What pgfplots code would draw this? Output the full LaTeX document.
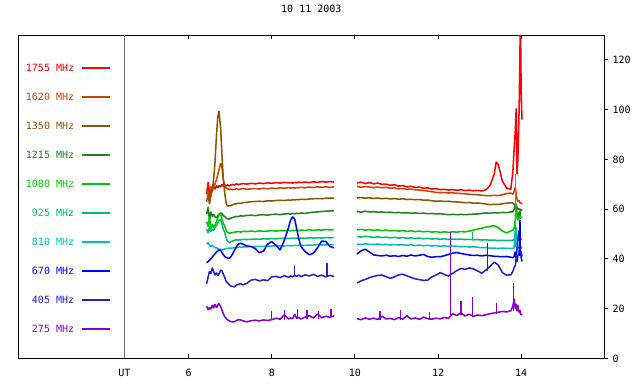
\documentclass[border=0pt]{standalone}
\usepackage{pgfplots}
\pgfplotsset{compat=1.18}
\usepackage{pgfplotstable}
\usepackage{fontspec}
\setmainfont{DejaVu Sans Mono}
\definecolor{c1755}{RGB}{255,0,0}
\definecolor{c1620}{RGB}{204,68,0}
\definecolor{c1350}{RGB}{136,88,0}
\definecolor{c1215}{RGB}{34,130,34}
\definecolor{c1080}{RGB}{0,200,0}
\definecolor{c925}{RGB}{0,190,110}
\definecolor{c810}{RGB}{0,190,190}
\definecolor{c670}{RGB}{0,0,255}
\definecolor{c405}{RGB}{35,35,200}
\definecolor{c275}{RGB}{136,0,204}
\definecolor{utgray}{RGB}{110,110,110}
\pgfplotstableread{
x r o b g lg t c bl db p
6.43 66.0 68.0 63.0 58.0 55.0 52.0 46.0 38.5 30.0 21.0
6.47 71.0 66.0 66.0 61.0 53.0 50.5 46.5 39.0 33.0 19.5
6.50 64.0 67.0 62.0 55.0 57.0 53.0 45.5 39.5 35.0 20.5
6.53 69.0 69.0 65.0 59.0 52.0 51.0 45.0 40.0 34.0 19.8
6.57 67.0 68.0 68.0 57.0 54.0 52.0 45.5 40.8 36.5 21.5
6.60 70.0 69.0 72.0 58.0 52.5 51.5 45.0 41.5 35.0 20.2
6.63 68.0 70.0 78.0 57.0 53.5 52.5 44.5 42.0 33.5 21.8
6.67 69.5 72.0 90.0 56.5 55.0 53.5 44.5 42.8 34.5 20.5
6.70 68.5 74.0 97.0 57.5 56.5 54.5 44.0 43.2 33.2 21.5
6.73 69.5 76.0 99.5 58.0 57.8 55.5 44.0 43.6 34.0 22.0
6.77 69.0 78.5 92.0 58.5 58.0 55.8 43.8 43.4 35.5 20.8
6.80 70.0 77.0 82.0 58.3 56.0 54.0 43.6 42.5 35.3 19.5
6.83 69.2 72.0 73.0 57.5 54.5 52.0 43.8 41.8 34.0 18.0
6.87 69.8 69.0 66.0 57.0 53.0 50.5 44.0 41.0 32.5 16.8
6.90 69.3 68.5 62.5 56.5 51.5 48.5 44.2 40.6 31.0 16.2
6.93 69.8 68.3 61.2 56.2 50.8 47.3 44.3 40.4 30.5 15.6
6.97 69.4 67.9 61.5 56.0 50.4 46.6 44.3 40.3 29.8 15.2
7.00 69.6 68.1 61.3 56.3 50.4 46.8 44.4 40.6 29.2 14.9
7.05 70.0 67.8 61.8 56.6 50.6 47.2 44.4 41.8 29.0 14.7
7.10 69.7 68.0 62.0 56.9 50.8 47.5 44.6 43.5 28.8 14.8
7.15 70.2 68.2 62.2 57.1 50.9 47.7 44.5 45.0 29.5 15.3
7.20 69.9 67.9 62.4 57.0 51.0 47.6 44.7 46.0 29.8 15.6
7.25 70.1 68.1 62.3 57.4 50.8 47.7 44.8 46.3 30.1 15.5
7.30 70.3 68.3 62.6 57.2 51.1 47.9 44.8 46.0 29.6 15.2
7.40 70.1 68.0 62.8 57.5 51.0 47.8 44.9 45.2 30.2 14.7
7.50 70.4 68.2 63.0 57.6 51.2 47.9 45.0 45.0 31.5 15.2
7.60 70.2 68.3 63.1 57.4 51.0 48.0 45.0 44.2 31.8 15.4
7.70 70.5 68.1 63.2 57.7 51.3 47.9 45.1 42.5 31.2 15.1
7.80 70.3 68.4 63.1 57.8 51.1 48.1 45.1 43.2 31.6 15.5
7.90 70.6 68.2 63.4 57.6 51.2 48.0 45.2 46.0 31.3 15.3
8.00 70.4 68.5 63.3 57.9 51.4 48.2 45.2 47.0 32.8 15.6
8.10 70.7 68.3 63.5 58.0 51.2 48.1 45.3 45.5 33.0 16.2
8.20 70.5 68.6 63.6 57.8 51.4 48.3 45.2 43.6 32.5 15.8
8.30 70.8 68.4 63.5 58.1 51.3 48.2 45.3 47.5 33.3 17.5
8.40 70.6 68.7 63.7 58.2 51.5 48.3 45.4 52.5 32.6 15.9
8.45 70.7 68.5 63.6 58.0 51.3 48.2 45.3 55.5 33.2 16.3
8.50 70.5 68.6 63.8 58.3 51.5 48.4 45.4 57.0 32.8 16.0
8.55 70.8 68.5 63.7 58.1 51.4 48.3 45.4 56.0 33.4 17.8
8.60 70.6 68.7 63.9 58.4 51.6 48.4 45.5 52.0 33.0 16.1
8.65 70.9 68.6 63.8 58.2 51.4 48.3 45.4 48.0 33.5 16.5
8.70 70.7 68.8 64.0 58.5 51.6 48.4 45.5 45.0 32.9 15.9
8.80 70.9 68.6 63.9 58.3 51.5 48.3 45.5 43.0 33.6 16.6
8.90 70.7 68.9 64.1 58.6 51.7 48.5 45.6 41.7 33.2 17.2
9.00 71.0 68.7 64.2 58.8 51.5 48.4 45.6 42.3 33.8 16.3
9.10 70.8 69.0 64.3 58.9 51.7 48.5 45.7 44.5 33.0 17.9
9.20 71.1 68.8 64.2 59.1 51.6 48.4 45.6 47.2 33.5 16.4
9.30 70.9 69.0 64.4 59.2 51.8 48.6 45.7 47.0 32.8 17.0
9.40 71.1 68.8 64.5 59.3 51.7 48.5 45.7 45.0 33.4 16.5
9.50 70.9 69.0 64.4 59.4 51.8 48.6 45.8 44.5 32.9 17.2
9.75 nan nan nan nan nan nan nan nan nan nan
10.05 70.6 69.2 64.5 59.1 51.7 49.0 46.0 42.0 30.4 16.0
10.15 70.9 68.8 64.7 58.8 51.9 48.8 45.8 43.3 31.2 15.6
10.25 70.3 69.1 64.4 59.2 51.6 49.1 46.1 43.9 31.8 16.3
10.35 70.7 68.9 64.6 58.9 51.8 48.9 45.9 42.8 32.5 15.8
10.45 70.2 68.7 64.3 59.0 51.5 48.7 45.8 41.6 33.0 16.2
10.55 70.5 68.9 64.5 58.8 51.7 48.9 46.0 41.4 33.4 15.7
10.65 70.0 68.6 64.2 58.9 51.4 48.6 45.7 41.2 33.5 17.0
10.75 70.1 68.8 64.4 58.7 51.6 48.8 45.9 41.5 32.9 15.9
10.85 69.6 68.4 64.1 58.8 51.3 48.5 45.6 41.1 32.2 16.1
10.95 69.8 68.6 64.3 58.6 51.5 48.7 45.8 41.3 32.8 15.6
11.05 69.3 68.2 64.0 58.7 51.2 48.4 45.6 41.0 33.6 16.4
11.15 69.5 68.3 64.2 58.5 51.4 48.6 45.7 41.4 33.9 15.8
11.25 69.0 68.0 63.9 58.6 51.1 48.3 45.5 41.1 33.2 17.2
11.35 69.2 68.1 64.0 58.4 51.3 48.5 45.7 41.6 32.6 15.9
11.45 68.7 67.8 63.8 58.5 51.0 48.2 45.4 41.2 32.0 16.3
11.55 68.9 67.7 63.9 58.3 51.2 48.4 45.6 41.5 31.7 15.7
11.65 68.4 67.5 63.6 58.4 50.9 48.1 45.3 41.8 31.4 16.6
11.75 68.6 67.3 63.7 58.2 51.1 48.3 45.5 41.0 31.5 16.0
11.85 68.1 67.0 63.4 58.3 50.8 48.0 45.2 40.7 32.8 15.8
11.95 68.3 66.8 63.2 58.1 51.0 48.2 45.4 40.9 33.5 16.2
12.05 67.8 66.6 63.3 58.2 50.7 47.9 45.1 40.9 34.5 15.9
12.15 68.0 66.7 63.1 58.0 50.9 48.1 45.3 41.3 33.8 16.5
12.25 67.7 66.5 63.2 57.8 50.7 47.8 45.0 41.8 33.1 16.1
12.35 67.9 66.6 63.0 57.9 50.9 48.0 45.2 42.3 34.2 18.0
12.45 67.6 66.4 62.9 57.8 50.8 47.9 45.1 42.6 35.3 17.3
12.55 67.8 66.3 62.8 57.9 51.0 48.0 44.9 42.2 36.2 18.4
12.65 67.5 66.2 62.6 57.8 50.9 47.8 45.0 41.9 35.8 17.1
12.75 67.7 66.0 62.7 57.9 51.2 47.9 44.8 41.6 36.4 17.8
12.85 67.4 65.9 62.4 58.0 51.6 47.7 44.9 41.4 36.0 16.9
12.95 67.6 65.8 62.5 58.1 52.0 47.8 44.7 41.5 35.2 17.5
13.05 67.3 65.6 62.3 58.3 52.3 47.6 44.5 41.2 34.3 17.2
13.15 67.8 65.5 62.1 58.5 52.8 47.7 44.6 41.5 35.5 17.6
13.25 69.5 65.4 61.8 58.4 53.1 47.5 44.3 41.3 37.0 18.0
13.35 74.0 65.6 62.0 58.6 53.4 47.6 44.4 41.1 38.7 18.3
13.40 79.0 65.5 61.9 58.5 53.0 47.5 44.3 41.0 38.2 18.4
13.45 77.8 65.5 61.9 58.5 52.6 47.4 44.2 41.0 37.5 18.6
13.55 71.2 65.8 62.2 58.7 51.2 47.5 44.4 40.9 34.5 18.9
13.65 68.5 66.3 62.4 58.6 50.5 47.4 44.2 41.0 33.5 18.7
13.75 68.0 66.5 62.6 58.9 51.2 47.5 44.3 40.7 33.6 19.2
13.80 75.0 66.0 62.5 59.0 51.5 47.5 44.2 40.5 35.0 21.0
13.83 84.0 67.0 62.0 60.0 52.5 47.8 44.5 41.0 36.5 24.0
13.86 92.0 69.0 61.0 62.5 56.0 50.0 52.0 43.0 37.5 20.0
13.88 100.5 66.0 60.5 61.5 59.5 53.0 45.0 40.0 40.0 22.0
13.90 74.0 64.0 61.0 58.0 57.0 48.0 44.0 39.0 44.0 19.0
13.92 80.0 63.0 60.0 56.0 55.5 47.5 44.8 41.5 48.0 21.5
13.95 99.5 63.5 60.2 59.0 57.5 48.2 44.3 42.0 51.5 18.5
13.97 122.0 62.5 59.8 57.0 56.0 47.8 44.5 50.0 46.0 19.5
13.98 140.0 62.8 60.0 60.0 57.0 48.0 44.2 44.0 42.0 18.0
14.00 107.0 62.2 59.6 59.5 56.5 47.8 44.6 40.5 43.0 17.5
14.02 96.0 62.5 59.8 59.8 57.0 48.0 44.3 39.0 41.0 18.0
}\datatable
\begin{document}
\begin{tikzpicture}[font=\fontsize{7.5pt}{9pt}\selectfont]
\begin{axis}[
  at={(0,0)}, anchor=south west,
  scale only axis, width=439.5pt, height=242.6pt,
  xmin=1.9, xmax=16, ymin=0, ymax=130,
  xtick={6,8,10,12,14}, ytick=\empty,
  tick align=inside, major tick length=3.2pt,
  xtick pos=both, xticklabel pos=lower,
  xticklabel style={anchor=center, inner sep=0pt, yshift=-11pt},
  extra x ticks={4.45}, extra x tick labels={UT},
  extra x tick style={grid=major, major grid style={draw=utgray, line width=0.75pt}, major tick length=0pt},
  axis line style={line width=0.75pt},
  tick style={line width=0.75pt, black},
  title={10 11 2003},
  title style={at={(0.5,1)}, anchor=center, yshift=13.5pt, inner sep=0pt},
  unbounded coords=jump,
  every axis plot/.append style={line width=1.15pt, line join=bevel},
  /pgf/number format/assume math mode=true,
  legend plot pos=right,
  legend cell align=right,
  legend image code/.code={\draw[#1, line width=1pt] (0pt,0pt) -- (21pt,0pt);},
  legend style={at={(0.1577,0.910)}, anchor=north east, draw=none, fill=none,
    inner sep=0pt, row sep=16.25pt, column sep=5.25pt,
    nodes={inner sep=0pt, text height=5.5pt, text depth=0pt}},
]
\addplot[c1755] table[x=x,y=r]{\datatable};
\addlegendentry{\textcolor{c1755}{1755 MHz}}
\addplot[c1620] table[x=x,y=o]{\datatable};
\addlegendentry{\textcolor{c1620}{1620 MHz}}
\addplot[c1350] table[x=x,y=b]{\datatable};
\addlegendentry{\textcolor{c1350}{1350 MHz}}
\addplot[c1215] table[x=x,y=g]{\datatable};
\addlegendentry{\textcolor{c1215}{1215 MHz}}
\addplot[c1080] table[x=x,y=lg]{\datatable};
\addlegendentry{\textcolor{c1080}{1080 MHz}}
\addplot[c925] table[x=x,y=t]{\datatable};
\addlegendentry{\textcolor{c925}{925 MHz}}
\addplot[c810] table[x=x,y=c]{\datatable};
\addlegendentry{\textcolor{c810}{810 MHz}}
\addplot[c670] table[x=x,y=bl]{\datatable};
\addlegendentry{\textcolor{c670}{670 MHz}}
\addplot[c405] table[x=x,y=db]{\datatable};
\addlegendentry{\textcolor{c405}{405 MHz}}
\addplot[c275] table[x=x,y=p]{\datatable};
\addlegendentry{\textcolor{c275}{275 MHz}}
% narrow spikes
\addplot[c275, forget plot, line width=1pt] coordinates {(8.0,15.5) (8.0,19) (8.01,nan) (8.3,15.5) (8.3,19.5) (8.31,nan) (8.62,16) (8.62,20) (8.63,nan) (8.85,16) (8.85,19.5) (8.86,nan) (9.12,16) (9.12,19) (9.13,nan) (9.42,16.5) (9.42,20) (9.43,nan) (10.6,15.5) (10.6,19) (10.61,nan) (11.1,15.5) (11.1,19.5) (11.11,nan) (11.8,15.5) (11.8,18.8) (11.81,nan) (12.3,16.5) (12.3,51) (12.31,nan) (12.55,17.5) (12.55,23) (12.56,nan) (12.83,17) (12.83,24.7) (12.84,nan) (13.4,18) (13.4,22.5) (13.41,nan) (13.82,19) (13.82,30.3)};
\addplot[c405, forget plot, line width=1pt] coordinates {(8.55,33) (8.55,37.2) (8.56,nan) (9.33,33) (9.33,38.5) (9.34,nan) (13.19,35) (13.19,46.4)};
\addplot[c925, forget plot, line width=1pt] coordinates {(12.83,48) (12.83,51)};
\addplot[c810, forget plot, line width=1pt] coordinates {(13.87,45) (13.87,74)};
\addplot[c670, forget plot, line width=1pt] coordinates {(13.97,41) (13.97,55.5)};
\end{axis}
\begin{axis}[
  at={(0,0)}, anchor=south west,
  scale only axis, width=439.5pt, height=242.6pt,
  xmin=1.9, xmax=16, ymin=0, ymax=130,
  hide x axis, axis y line*=right,
  ytick={0,20,40,60,80,100,120},
  tick align=outside, major tick length=2.5pt,
  yticklabel style={anchor=west, inner sep=0pt, xshift=3.5pt},
  axis line style={line width=0.75pt},
  tick style={line width=0.75pt, black},
  /pgf/number format/assume math mode=true,
]
\end{axis}
\pgfresetboundingbox
\path (-13.73pt,-19.13pt) rectangle (466.28pt,268.88pt);
\end{tikzpicture}
\end{document}
